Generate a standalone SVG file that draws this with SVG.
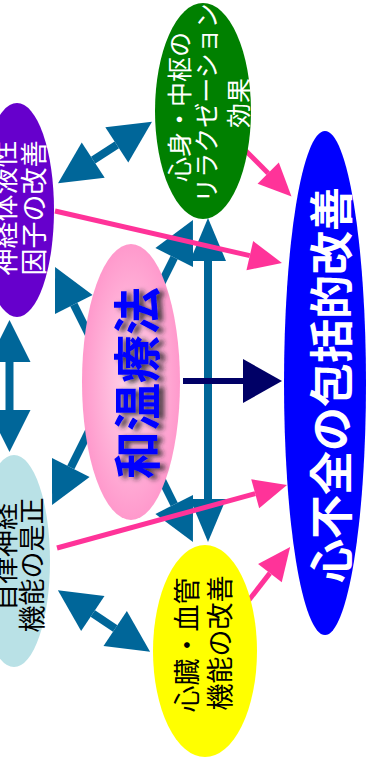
<svg xmlns="http://www.w3.org/2000/svg" width="368" height="758" viewBox="0 0 368 758">
<style>
.t{font-family:"Noto Sans CJK JP","Noto Sans CJK SC",sans-serif;text-anchor:middle;dominant-baseline:central}
.bl{stroke:#006699;stroke-width:8;fill:none}
.pk{stroke:#ff3399;stroke-width:5;fill:none}
.nv{stroke:#000066;stroke-width:6;fill:none}
</style>
<defs>
<marker id="hb" markerUnits="userSpaceOnUse" markerWidth="50" markerHeight="50" viewBox="0 -25 50 50" refX="0" refY="0" orient="auto-start-reverse" overflow="visible"><path d="M0,-21 L42,0 L0,21 z" fill="#006699"/></marker>
<marker id="hb2" markerUnits="userSpaceOnUse" markerWidth="50" markerHeight="50" viewBox="0 -25 50 50" refX="0" refY="0" orient="auto-start-reverse" overflow="visible"><path d="M0,-18 L43,0 L0,18 z" fill="#006699"/></marker>
<marker id="hp" markerUnits="userSpaceOnUse" markerWidth="40" markerHeight="40" viewBox="0 -20 40 40" refX="0" refY="0" orient="auto" overflow="visible"><path d="M0,-15 L33,0 L0,15 z" fill="#ff3399"/></marker>
<marker id="hn" markerUnits="userSpaceOnUse" markerWidth="50" markerHeight="50" viewBox="0 -25 50 50" refX="0" refY="0" orient="auto" overflow="visible"><path d="M0,-22 L39,0 L0,22 z" fill="#000066"/></marker>
<radialGradient id="pg" cx="50%" cy="50%" r="50%"><stop offset="0" stop-color="#ffd6ea"/><stop offset="1" stop-color="#ff99cc"/></radialGradient>
<filter id="sh" x="-30%" y="-30%" width="160%" height="160%"><feGaussianBlur in="SourceAlpha" stdDeviation="2.5"/><feOffset dx="5" dy="2" result="b"/><feFlood flood-color="#222" flood-opacity="0.85"/><feComposite in2="b" operator="in"/><feMerge><feMergeNode/><feMergeNode in="SourceGraphic"/></feMerge></filter>
</defs>
<g id="connectors">
<line class="bl" x1="93.2" y1="160.2" x2="116.8" y2="144.8" marker-start="url(#hb)" marker-end="url(#hb)"/>
<line class="bl" x1="9.5" y1="362" x2="9.5" y2="410" marker-start="url(#hb)" marker-end="url(#hb)"/>
<line class="bl" x1="92.8" y1="613.5" x2="115.2" y2="628.5" marker-start="url(#hb)" marker-end="url(#hb)"/>
<line class="bl" x1="208" y1="261" x2="208" y2="499" marker-start="url(#hb2)" marker-end="url(#hb2)"/>
<line class="bl" x1="150.5" y1="305" x2="174.2" y2="257.5" marker-end="url(#hb)"/>
<line class="bl" x1="150.5" y1="457" x2="174.2" y2="504.5" marker-end="url(#hb)"/>
<line class="bl" x1="99.7" y1="356.4" x2="73.8" y2="304.5" marker-end="url(#hb)"/>
<line class="bl" x1="96.7" y1="415.6" x2="70.8" y2="467.5" marker-end="url(#hb)"/>
<line class="pk" x1="55" y1="211" x2="249.8" y2="255.6" marker-end="url(#hp)"/>
<line class="pk" x1="57" y1="548" x2="255.2" y2="493.7" marker-end="url(#hp)"/>
<line class="pk" x1="230" y1="135" x2="268.2" y2="173.2" marker-end="url(#hp)"/>
<line class="pk" x1="235" y1="618" x2="269.9" y2="573.1" marker-end="url(#hp)"/>
<line class="nv" x1="183" y1="381" x2="243" y2="381" marker-end="url(#hn)"/>
</g>
<g id="n-shinfuzen">
<ellipse cx="325" cy="383" rx="41" ry="252" fill="#0000ff"/>
<text class="t" transform="translate(329,385) rotate(-90)" font-size="44" font-weight="bold" fill="#ffffff">心不全の包括的改善</text>
</g>
<g id="n-waon">
<ellipse cx="131" cy="382" rx="49" ry="138" fill="url(#pg)"/>
<g filter="url(#sh)"><text class="t" transform="translate(134,383) rotate(-90)" font-size="48" font-weight="bold" fill="#0000ff">和温療法</text></g>
</g>
<g id="n-shinkei">
<ellipse cx="17" cy="210" rx="37" ry="107" fill="#6600cc"/>
<text class="t" transform="translate(17,208) rotate(-90)" font-size="27" fill="#ffffff"><tspan x="0" y="-14">神経体液性</tspan><tspan x="0" y="15">因子の改善</tspan></text>
</g>
<g id="n-jiritsu">
<ellipse cx="14" cy="561" rx="36" ry="106" fill="#b9e1e6"/>
<text class="t" transform="translate(14,561) rotate(-90)" font-size="27" fill="#000000"><tspan x="4" y="-11">自律神経</tspan><tspan x="-4" y="16">機能の是正</tspan></text>
</g>
<g id="n-shinshin">
<ellipse cx="203" cy="111" rx="48" ry="108" fill="#008000"/>
<text class="t" transform="translate(203,105) rotate(-90)" font-size="25" fill="#ffffff"><tspan x="-2" y="-25">心身・中枢の</tspan><tspan x="2" y="2">リラクゼーション</tspan><tspan x="2" y="34">効果</tspan></text>
</g>
<g id="n-shinzou">
<ellipse cx="205" cy="651" rx="52" ry="106" fill="#ffff00"/>
<text class="t" transform="translate(205,645) rotate(-90)" font-size="27" fill="#000000"><tspan x="0" y="-20">心臓・血管</tspan><tspan x="2" y="13">機能の改善</tspan></text>
</g>
</svg>
